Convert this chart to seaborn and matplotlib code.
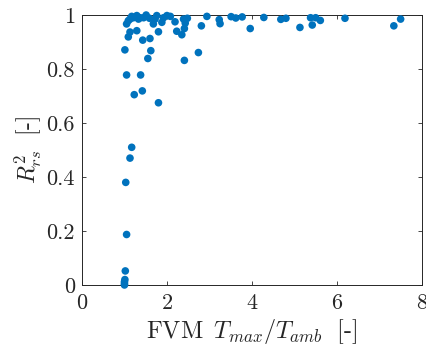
import matplotlib
matplotlib.use("Agg")
import matplotlib.pyplot as plt
import seaborn as sns
import pandas as pd

# FVM Tmax/Tamb vs R^2_rs
t_ratio = [1.00, 1.00, 1.00, 1.01, 1.02, 1.05, 1.03, 1.13, 1.17,
           1.05, 1.38, 1.42, 1.23, 1.80, 1.55, 2.41, 2.74,
           1.01, 1.62, 1.43, 1.60, 1.09, 1.13, 1.29, 1.80,
           1.05, 1.09, 1.17, 1.29, 1.33, 1.37, 1.45, 1.51, 1.59, 1.68,
           1.72, 1.76, 1.88, 1.92, 2.00, 2.08, 2.19, 2.23, 2.35, 2.41,
           2.43, 2.39, 2.48, 2.81, 2.94, 3.23, 3.25, 3.51, 3.62, 3.77,
           3.96, 4.28, 4.68, 4.80, 5.13, 5.38, 5.50, 5.42, 5.61, 6.19,
           7.34, 7.50, 1.13, 1.21]
r2_rs = [0.000, 0.005, 0.012, 0.020, 0.052, 0.187, 0.380, 0.470, 0.510,
         0.778, 0.778, 0.719, 0.705, 0.675, 0.839, 0.832, 0.861,
         0.871, 0.868, 0.907, 0.913, 0.919, 0.937, 0.942, 0.938,
         0.967, 0.979, 0.995, 0.998, 0.985, 0.990, 0.990, 1.000, 0.988, 0.967,
         0.985, 0.998, 0.973, 0.990, 0.998, 0.995, 0.975, 0.940, 0.927, 0.950,
         0.970, 0.985, 0.988, 0.960, 0.995, 0.983, 0.968, 0.994, 0.989, 0.993,
         0.950, 0.991, 0.984, 0.988, 0.954, 0.990, 0.990, 0.963, 0.980, 0.988,
         0.960, 0.985, 0.985, 0.990]

df = pd.DataFrame({"t": t_ratio, "r2": r2_rs})

sns.set_style("ticks")
plt.rcParams["font.family"] = "serif"
plt.rcParams["font.serif"] = ["cmr10"]
plt.rcParams["mathtext.fontset"] = "cm"
plt.rcParams["axes.formatter.use_mathtext"] = True

fig = plt.figure(figsize=(4.27, 3.58), dpi=100)
ax = fig.add_axes([0.192, 0.204, 0.796, 0.754])

sns.scatterplot(data=df, x="t", y="r2", ax=ax, color="#0072BD", s=30,
                edgecolor="none", clip_on=False, zorder=3)

ax.set_xlim(0, 8)
ax.set_ylim(0, 1)
ax.set_xticks([0, 2, 4, 6, 8])
ax.set_xticklabels(["0", "2", "4", "6", "8"])
ax.set_yticks([0, 0.2, 0.4, 0.6, 0.8, 1])
ax.set_yticklabels(["0", "0.2", "0.4", "0.6", "0.8", "1"])
ax.tick_params(direction="in", length=3, width=0.6, top=True, right=True,
               labelsize=16, colors="#262626")
ax.tick_params(axis="x", pad=6)
ax.tick_params(axis="y", pad=5)
for sp in ax.spines.values():
    sp.set_visible(True)
    sp.set_color("#262626")
    sp.set_linewidth(0.7)

ax.set_xlabel(r"FVM $\,T_{max}/T_{amb}\;$ [-]", fontsize=17.5, color="#262626", labelpad=3)
ax.set_ylabel(r"$R^2_{rs}\;$ [-]", fontsize=17, color="#262626", labelpad=2)

fig.savefig("out.png", dpi=100)
